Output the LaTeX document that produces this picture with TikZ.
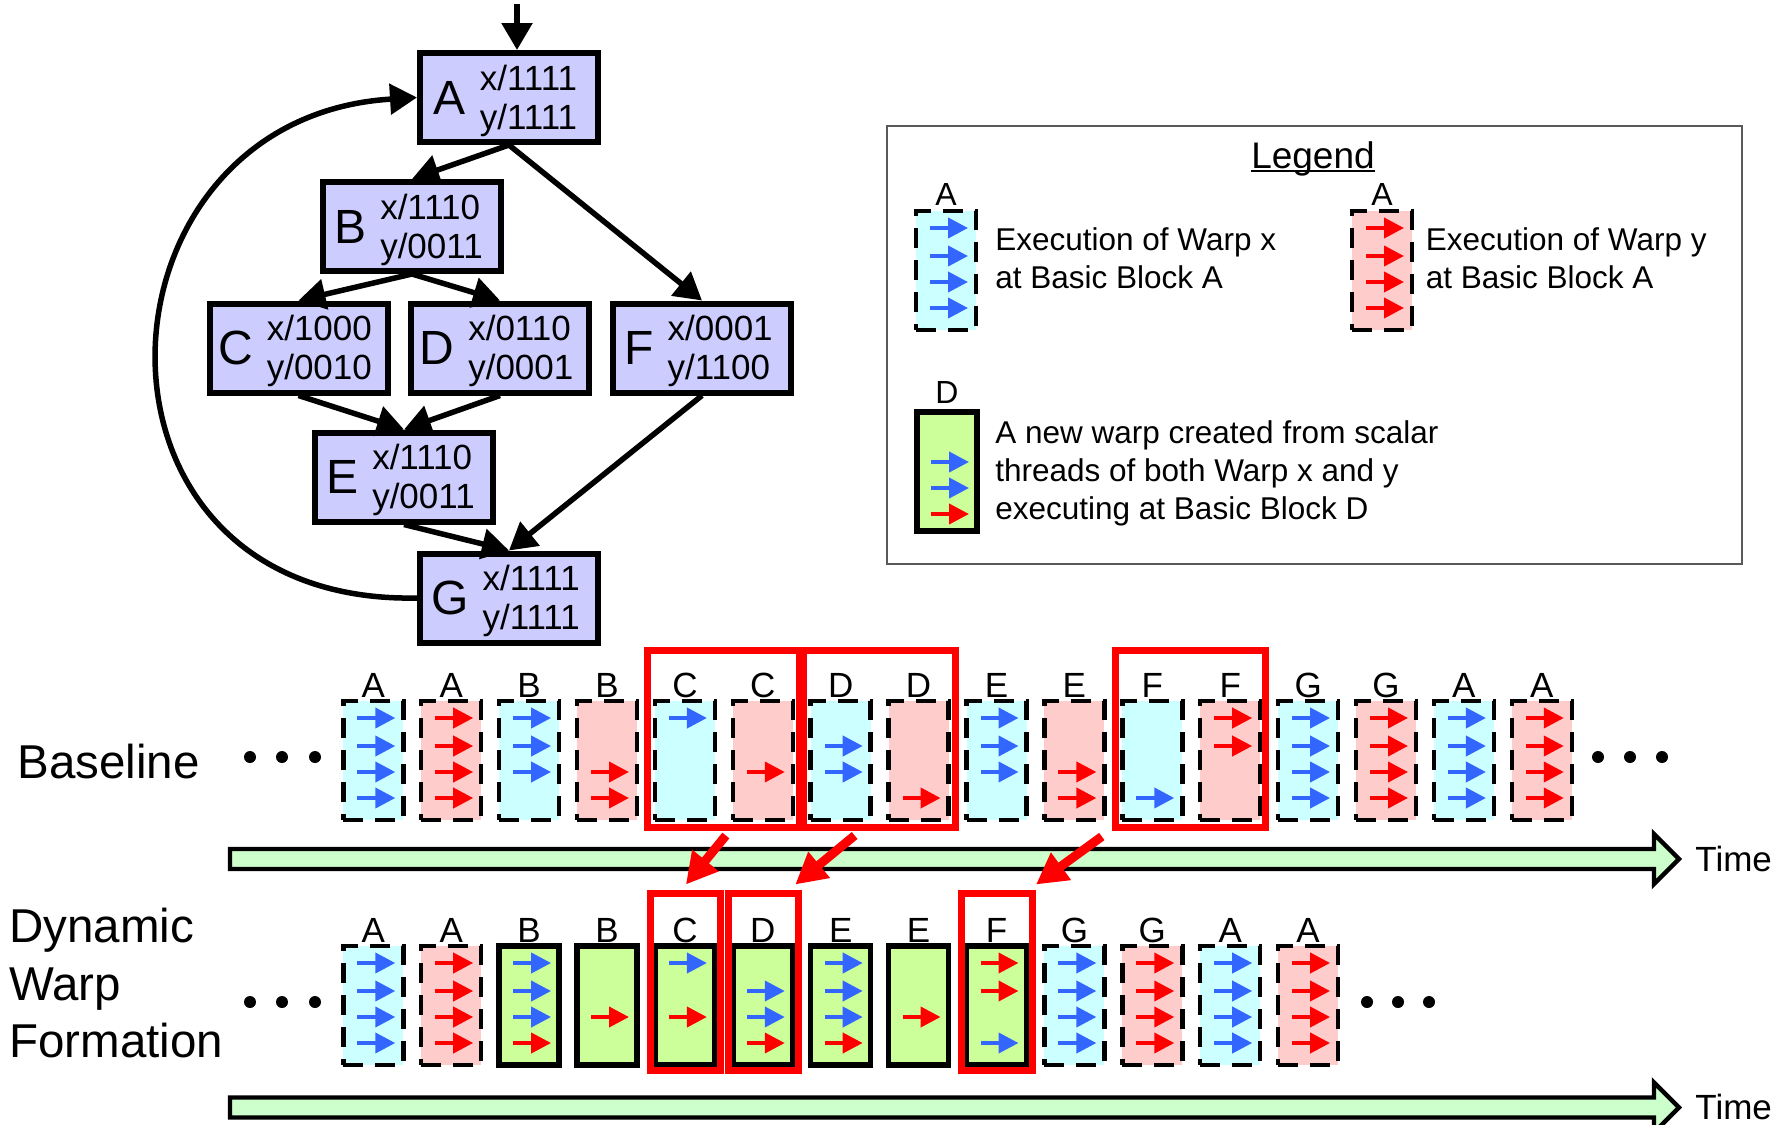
\documentclass[tikz,border=0pt]{standalone}
\usepackage{fontspec}
\setmainfont{Liberation Sans}
\usetikzlibrary{arrows.meta,calc,fit}

\definecolor{blocklilac}{RGB}{204,204,255}
\definecolor{warpxfill}{RGB}{204,255,255}
\definecolor{warpyfill}{RGB}{255,204,204}
\definecolor{warpnfill}{RGB}{204,255,153}
\definecolor{timefill}{RGB}{204,255,204}
\definecolor{threadblue}{RGB}{51,102,255}

% basic block label: big letter plus the two masks
\newcommand{\bbtext}[3]{%
  $\vcenter{\hbox{\fontsize{24}{24}\selectfont #1}}$\hspace{7pt}%
  \raisebox{-2.3pt}[\height][\depth]{$\vcenter{\hbox{\fontsize{17.5}{19.5}\selectfont
    \begin{tabular}{@{}l@{}}x/#2\\y/#3\end{tabular}}}$}\kern3.5pt}

% one scalar thread at a given depth of a warp box
\newcommand{\threadat}[3]{%
  \if x#3\draw[tx] ($(#1.north west)+(14,#2)$) -- ++(38,0);\fi
  \if y#3\draw[ty] ($(#1.north west)+(14,#2)$) -- ++(38,0);\fi}
\newcommand{\threads}[5]{%
  \threadat{#1}{17}{#2}\threadat{#1}{45}{#3}%
  \threadat{#1}{71}{#4}\threadat{#1}{97}{#5}}

\begin{document}
\begin{tikzpicture}[
  x=0.5pt, y=-0.5pt,
  block/.style={draw, line width=3pt, fill=blocklilac, minimum width=89pt,
    minimum height=44.5pt, inner sep=0pt},
  cfg/.style={line width=2.75pt, -{Triangle[length=13.5pt,width=15pt]}},
  warp/.style={draw, line width=2.25pt, minimum width=30pt, minimum height=59.5pt,
    inner sep=0pt, outer sep=0pt, anchor=north west},
  boxx/.style={warp, fill=warpxfill, dash pattern=on 10pt off 6pt},
  boxy/.style={warp, fill=warpyfill, dash pattern=on 10pt off 6pt},
  boxn/.style={warp, fill=warpnfill, line width=2.75pt},
  tx/.style={threadblue, line width=2pt, -{Triangle[length=10pt,width=10pt]}},
  ty/.style={red, line width=2pt, -{Triangle[length=10pt,width=10pt]}},
  collabel/.style={anchor=base, inner sep=0pt, font=\fontsize{17.5}{17.5}\selectfont},
  hilite/.style={draw=red, line width=3.5pt, inner sep=0pt},
  redarrow/.style={red, line width=4.5pt, -{Triangle[length=15.5pt,width=16pt]}},
  timebar/.style={draw, fill=timefill, line width=2.2pt, line join=miter},
  rowname/.style={inner sep=0pt, align=left, font=\fontsize{23.75}{28.75}\selectfont},
  legtext/.style={inner sep=0pt, align=left, anchor=north west,
    font=\fontsize{15.75}{19}\selectfont}
  ]
\useasboundingbox (0,0) rectangle (1784,1125);

% control flow graph
\node[block] (A) at (509,97.5) {\bbtext{A}{1111}{1111}};
\node[block] (B) at (412,226.5) {\bbtext{B}{1110}{0011}};
\node[block] (C) at (298.5,348) {\bbtext{C}{1000}{0010}};
\node[block] (D) at (500,348) {\bbtext{D}{0110}{0001}};
\node[block] (F) at (702,348) {\bbtext{F}{0001}{1100}};
\node[block] (E) at (404,477) {\bbtext{E}{1110}{0011}};
\node[block] (G) at (509,598) {\bbtext{G}{1111}{1111}};

\coordinate (entry) at (517,4);
\draw[cfg] (entry) -- (entry |- A.north);
\draw[cfg] (A.south) -- (B.north);
\draw[cfg] (A.south) -- (F.north);
\draw[cfg] (B.south) -- (C.north);
\draw[cfg] (B.south) -- (D.north);
\draw[cfg] (C.south) -- (E.north);
\draw[cfg] (D.south) -- (E.north);
\draw[cfg] (E.south) -- (G.north);
\draw[cfg] (F.south) -- (G.north);
\draw[cfg] (G.west) .. controls (62,605) and (82,118) .. (A.west);

% legend
\draw[gray!70!black, line width=0.8pt] (887,126) rectangle (1742,564);
\node[inner sep=0pt, anchor=base, font=\fontsize{18.5}{18.5}\selectfont] (legtitle) at (1313,168) {Legend};
\draw[line width=1.4pt] ($(legtitle.base west)+(0,3)$) -- ($(legtitle.base east)+(0,3)$);
\node[boxx] (lx) at (916,211) {};
\node[boxy] (ly) at (1352,211) {};
\node[boxn] (ln) at (917,412) {};
\node[collabel, font=\fontsize{16}{16}\selectfont] (lxl) at ($(lx.north)+(0,-6)$) {A};
\node[collabel, font=\fontsize{16}{16}\selectfont] (lyl) at ($(ly.north)+(0,-6)$) {A};
\node[collabel, font=\fontsize{16}{16}\selectfont] (lnl) at ($(ln.north)+(0,-9)$) {D};
\threads{lx}{x}{x}{x}{x}
\threads{ly}{y}{y}{y}{y}
\threadat{ln}{50}{x}\threadat{ln}{76}{x}\threadat{ln}{102}{y}
\node[legtext] (lxt) at (995,227.5) {Execution of Warp x\\at Basic Block A};
\node[legtext] (lyt) at (1425.5,227.5) {Execution of Warp y\\at Basic Block A};
\node[legtext] (lnt) at (995,420.5) {A new warp created from scalar\\threads of both Warp x and y\\executing at Basic Block D};

% baseline schedule
\node[rowname, anchor=west] (base) at (17,762) {Baseline};
\foreach \lab/\sty/\sa/\sb/\sc/\sd [count=\i from 0] in {A/x/x/x/x/x, A/y/y/y/y/y,
    B/x/x/x/x/0, B/y/0/0/y/y, C/x/x/0/0/0, C/y/0/0/y/0, D/x/0/x/x/0, D/y/0/0/0/y,
    E/x/x/x/x/0, E/y/0/0/y/y, F/x/0/0/0/x, F/y/y/y/0/0, G/x/x/x/x/x, G/y/y/y/y/y,
    A/x/x/x/x/x, A/y/y/y/y/y}{
  \node[box\sty] (b\i) at ({343.3+77.9*\i},701) {};
  \node[collabel] (bl\i) at ($(b\i.north)+(0,-4)$) {\lab};
  \threads{b\i}{\sa}{\sb}{\sc}{\sd}
}

% dynamic warp formation schedule
\node[rowname, anchor=north west] (dyn) at (9,908) {Dynamic\\Warp\\Formation};
\foreach \lab/\sty/\sa/\sb/\sc/\sd [count=\i from 0] in {A/x/x/x/x/x, A/y/y/y/y/y,
    B/n/x/x/x/y, B/n/0/0/y/0, C/n/x/0/y/0, D/n/0/x/x/y, E/n/x/x/x/y, E/n/0/0/y/0,
    F/n/y/y/0/x, G/x/x/x/x/x, G/y/y/y/y/y, A/x/x/x/x/x, A/y/y/y/y/y}{
  \node[box\sty] (d\i) at ({343.3+77.9*\i},946) {};
  \node[collabel] (dl\i) at ($(d\i.north)+(0,-4)$) {\lab};
  \threads{d\i}{\sa}{\sb}{\sc}{\sd}
}

% ellipses
\foreach \dx in {250,282,315}{
  \fill (\dx,757) circle (3pt);
  \fill (\dx,1002) circle (3pt);
}
\foreach \dx in {1598,1630,1662} \fill (\dx,757) circle (3pt);
\foreach \dx in {1367,1398,1429} \fill (\dx,1002) circle (3pt);

% time axes
\draw[timebar] (230,849) -- (1654,849) -- (1654,834) -- (1679,859) -- (1654,884)
  -- (1654,869) -- (230,869) -- cycle;
\draw[timebar] (230,1097.5) -- (1654,1097.5) -- (1654,1082.5) -- (1679,1107.5)
  -- (1654,1132.5) -- (1654,1117.5) -- (230,1117.5) -- cycle;
\node[inner sep=0pt, anchor=west, font=\fontsize{17.5}{17.5}\selectfont] (t1) at (1695,859) {Time};
\node[inner sep=0pt, anchor=west, font=\fontsize{17.5}{17.5}\selectfont] (t2) at (1695,1107) {Time};

% highlighted blocks
\node[hilite, fit={($(b4.north west)+(-7,-51)$) ($(b5.south east)+(7,7)$)}] (fC) {};
\node[hilite, fit={($(b6.north west)+(-7,-51)$) ($(b7.south east)+(7,7)$)}] (fD) {};
\node[hilite, fit={($(b10.north west)+(-7,-51)$) ($(b11.south east)+(5,7)$)}] (fF) {};
\node[hilite, fit={($(d4.north west)+(-4,-53)$) ($(d4.south east)+(6,5)$)}] (gC) {};
\node[hilite, fit={($(d5.north west)+(-4,-53)$) ($(d5.south east)+(6,5)$)}] (gD) {};
\node[hilite, fit={($(d8.north west)+(-5,-53)$) ($(d8.south east)+(6,5)$)}] (gF) {};

\draw[redarrow] ($(fC.south)+(2,5)$) -- ($(gC.north)+(0,-5)$);
\draw[redarrow] ($(fD.south)+(-25,5)$) -- ($(gD.north east)+(-7,-5)$);
\draw[redarrow] ($(fF.south west)+(-10,6)$) -- ($(gF.north east)+(0,-5)$);

\end{tikzpicture}
\end{document}
